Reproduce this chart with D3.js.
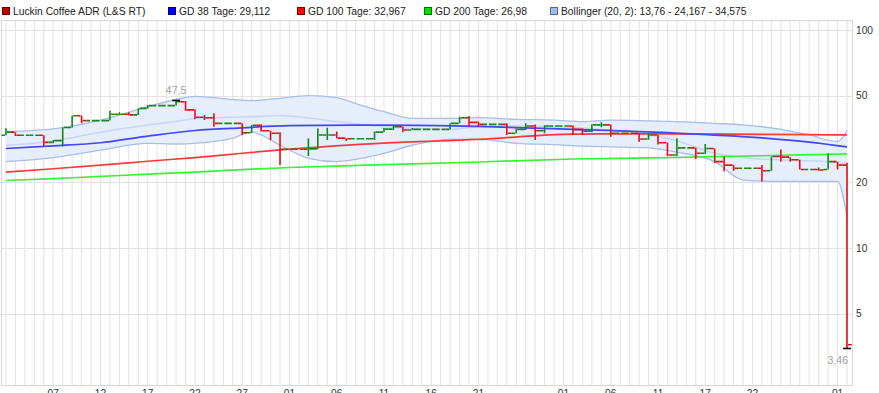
<!DOCTYPE html>
<html>
<head>
<meta charset="utf-8">
<title>Luckin Coffee ADR</title>
<style>
  body { margin: 0; background: #fff; }
  svg { display: block; font-family: "Liberation Sans", Arial, sans-serif; }
</style>
</head>
<body>
<div id="chart"></div>
<script src="https://d3js.org/d3.v7.min.js"></script>
<script>
// Tageskurse (L&S RT), 02.01. - 02.04.
var open  = [32.9,34.0,32.9,32.9,32.9,30.5,31.1,35.7,40.4,38.4, 38.4,38.4,41.1,41.1,40.8,43.7,45.0,45.0,45.0,46.9,
             43.0,39.8,39.6,37.3,37.3,37.3,33.8,36.5,34.5,33.6, 28.4,28.4,28.4,28.5,33.0,33.0,31.9,31.7,31.7,31.7,
             34.0,35.1,36.0,34.8,35.0,35.0,35.0,35.0,37.3,39.6, 37.7,36.9,36.9,36.9,33.6,35.0,36.3,34.5,36.3,36.3,
             36.3,35.0,34.3,36.7,36.7,33.6,33.6,33.6,31.6,33.0, 30.4,26.7,28.8,28.8,27.2,28.6,24.9,24.0,23.2,23.2,
             23.2,22.6,26.3,26.1,25.4,22.9,22.9,22.9,24.9,24.0];
var high  = [35.4,34.0,32.9,32.9,32.9,31.3,35.7,40.4,40.4,38.4, 38.4,42.6,42.0,42.0,43.7,45.3,45.0,45.0,47.5,47.2,
             43.2,40.8,41.5,37.3,37.3,37.3,36.7,37.0,34.5,34.0, 28.4,28.4,31.9,35.3,35.6,34.2,31.9,31.7,31.7,34.2,
             35.5,36.5,36.0,35.5,35.0,35.0,35.0,37.3,40.0,40.3, 38.0,36.9,36.9,37.3,35.3,37.3,36.9,36.7,36.3,36.3,
             36.5,35.4,37.0,37.7,36.9,33.6,33.6,33.6,33.6,33.0, 30.4,31.9,28.8,28.8,30.0,28.6,26.3,24.0,23.2,23.2,
             24.0,26.3,28.3,26.1,25.4,22.9,23.4,27.2,24.9,24.6];
var low   = [32.9,32.6,32.9,32.9,29.2,30.2,29.2,35.7,37.3,38.4, 38.4,38.4,40.8,40.5,40.8,43.7,45.0,45.0,45.0,42.6,
             39.0,38.6,36.0,37.3,37.3,33.0,33.8,34.2,31.3,24.0, 28.4,28.4,26.4,28.4,31.3,31.9,31.0,31.7,31.7,31.3,
             34.0,34.8,34.0,34.8,35.0,35.0,35.0,35.0,37.3,36.0, 36.0,36.9,36.9,33.0,33.6,34.8,31.3,33.6,36.3,36.3,
             33.0,33.0,34.0,35.8,32.4,33.6,33.6,30.7,31.4,29.8, 26.4,26.4,28.8,25.6,27.0,24.5,22.5,22.6,23.2,23.2,
             20.2,22.6,24.9,24.9,22.9,22.9,22.6,22.9,22.9,3.46];
var close = [34.0,32.9,32.9,32.9,30.5,31.1,35.7,40.4,38.4,38.4, 38.4,41.1,41.1,40.8,43.7,45.0,45.0,45.0,46.9,43.0,
             39.8,39.6,37.3,37.3,37.3,33.8,36.5,34.5,33.6,28.4, 28.4,28.4,28.5,33.0,33.0,31.9,31.7,31.7,31.7,34.0,
             35.1,36.0,34.8,35.0,35.0,35.0,35.0,37.3,39.6,37.7, 36.9,36.9,36.9,33.6,35.0,36.3,34.5,36.3,36.3,36.3,
             35.0,34.3,36.7,36.7,33.6,33.6,33.6,31.6,33.0,30.4, 26.7,28.8,28.8,27.2,28.6,24.9,24.0,23.2,23.2,23.2,
             22.6,26.3,26.1,25.4,22.9,22.9,22.8,24.9,24.0,3.6];

var maIdx  = [0, 5, 10, 15, 20, 25, 30, 40, 50, 60, 70, 80, 85, 89];
var gd38   = [28.6,29.4,30.4,32.6,34.6,35.6,36.4,36.6,36.1,35.0,33.8,32.0,30.6,29.1];
var gd100  = [22.3,23.1,24.0,25.0,26.0,27.2,28.4,30.3,31.5,33.3,33.4,33.2,33.1,33.0];
var gd200  = [20.4,20.8,21.3,21.8,22.3,22.9,23.4,24.1,24.8,25.6,26.0,26.5,26.8,27.0];

// Bollinger (20, 2)
var bandIdx   = [0, 5, 10, 15, 18, 20, 24, 26, 29, 32, 35, 37, 40, 43, 47, 50, 54, 58, 61, 64, 68, 71, 75, 78, 82, 85, 88, 89];
var bollUpper = [34.2,35.2,38.6,44.5,48.0,49.6,48.0,47.4,48.6,50.0,49.0,46.0,42.2,39.3,39.3,39.6,38.9,38.6,38.0,38.6,38.3,38.0,37.3,36.7,35.0,33.0,30.8,34.6];
var bollMid   = [29.6,31.0,34.0,36.7,38.0,39.3,39.8,40.0,40.5,39.5,38.0,37.2,36.0,35.3,35.0,36.0,36.3,36.0,35.5,34.6,33.0,31.0,27.2,26.0,25.3,25.1,24.6,24.2];
var bollLower = [24.9,26.0,28.1,30.2,30.0,30.2,31.9,34.0,29.6,25.8,24.9,25.5,27.2,29.6,31.5,31.5,30.2,29.8,29.3,29.1,28.8,27.5,24.9,20.5,20.2,20.2,20.2,13.8];

var yTicks = [100, 50, 20, 10, 5];
var xTickIdx    = [5, 10, 15, 20, 25, 30, 35, 40, 45, 50, 59, 64, 69, 74, 79, 88];
var xTickLabels = ["07","12","17","22","27","01","06","11","16","21","01","06","11","17","22","01"];

var legendItems = [
  {text: "Luckin Coffee ADR (L&S RT)", fill: "#c00000", stroke: "#600000", x: 2},
  {text: "GD 38 Tage: 29,112", fill: "#0000ff", stroke: "#000080", x: 168},
  {text: "GD 100 Tage: 32,967", fill: "#ff0000", stroke: "#800000", x: 297},
  {text: "GD 200 Tage: 26,98", fill: "#00e000", stroke: "#007000", x: 424},
  {text: "Bollinger (20, 2): 13,76 - 24,167 - 34,575", fill: "#a4b8e4", stroke: "#5a6a98", x: 550}
];

var W = 879, H = 393;
var plot = {l: 1.5, r: 852.5, t: 20.5, b: 385.5};

var svg = d3.select("#chart").append("svg")
  .attr("width", W).attr("height", H);

var x = d3.scalePoint().domain(d3.range(close.length)).range([6, 847]);
var step = x.step();
var y = d3.scaleLog().domain([10, 100]).range([248, 30]);

svg.append("clipPath").attr("id", "clip")
  .append("rect").attr("x", plot.l).attr("y", plot.t)
  .attr("width", plot.r - plot.l).attr("height", plot.b - plot.t);

// Gitter
var grid = svg.append("g");
grid.selectAll("line.v").data(d3.range(close.length)).enter().append("line")
  .attr("x1", function(d){ return x(d); }).attr("x2", function(d){ return x(d); })
  .attr("y1", plot.t).attr("y2", plot.b)
  .attr("stroke", "#e2e2e2").attr("stroke-width", 1);
grid.selectAll("line.h").data(yTicks).enter().append("line")
  .attr("x1", plot.l).attr("x2", plot.r)
  .attr("y1", function(d){ return Math.round(y(d)) + 0.5; })
  .attr("y2", function(d){ return Math.round(y(d)) + 0.5; })
  .attr("stroke", "#e2e2e2");
svg.append("rect").attr("x", plot.l).attr("y", plot.t)
  .attr("width", plot.r - plot.l).attr("height", plot.b - plot.t)
  .attr("fill", "none").attr("stroke", "#d6d6d6");

var g = svg.append("g").attr("clip-path", "url(#clip)");

// Bollinger Band
var bandArea = d3.area()
  .x(function(d, i){ return x(bandIdx[i]); })
  .y0(function(d, i){ return y(bollLower[i]); })
  .y1(function(d, i){ return y(bollUpper[i]); })
  .curve(d3.curveMonotoneX);
g.append("path").datum(bandIdx).attr("d", bandArea)
  .attr("fill", "#e6edfb").attr("stroke", "none");

function seriesLine(idx) {
  return d3.line()
    .x(function(d, i){ return x(idx[i]); })
    .y(function(d){ return y(d); })
    .curve(d3.curveMonotoneX);
}
[[bollUpper, "#a9bde7", 1.3], [bollLower, "#a9bde7", 1.3], [bollMid, "#c6d6f4", 1.5]].forEach(function(s){
  g.append("path").datum(s[0]).attr("d", seriesLine(bandIdx))
    .attr("fill", "none").attr("stroke", s[1]).attr("stroke-width", s[2]);
});

[[gd200, "#3cf03c"], [gd100, "#ff3a3a"], [gd38, "#4646ff"]].forEach(function(s){
  g.append("path").datum(s[0]).attr("d", seriesLine(maIdx))
    .attr("fill", "none").attr("stroke", s[1]).attr("stroke-width", 1.7);
});

// OHLC Balken
var bars = g.selectAll("g.bar").data(d3.range(close.length)).enter().append("g")
  .attr("stroke", function(i){ return close[i] >= open[i] ? "#14861a" : "#e01010"; })
  .attr("stroke-width", 1.6);
bars.append("line")
  .attr("x1", function(i){ return x(i); }).attr("x2", function(i){ return x(i); })
  .attr("y1", function(i){ return y(high[i]); }).attr("y2", function(i){ return y(low[i]); });
bars.append("line")
  .attr("x1", function(i){ return x(i) - step / 2; }).attr("x2", function(i){ return x(i) - 1; })
  .attr("y1", function(i){ return y(open[i]); }).attr("y2", function(i){ return y(open[i]); });
bars.append("line")
  .attr("x1", function(i){ return x(i) + 1; }).attr("x2", function(i){ return x(i) + step / 2; })
  .attr("y1", function(i){ return y(close[i]); }).attr("y2", function(i){ return y(close[i]); });

// Hoch / Tief Markierung
function deNum(v){ return String(v).replace(".", ","); }
var iMax = d3.maxIndex(high), iMin = d3.minIndex(low);
[[iMax, high[iMax], -6, "middle"], [iMin, low[iMin], 16, "end"]].forEach(function(m){
  svg.append("line")
    .attr("x1", x(m[0]) - 4).attr("x2", x(m[0]) + 4)
    .attr("y1", y(m[1])).attr("y2", y(m[1]))
    .attr("stroke", "#111").attr("stroke-width", 1.6);
  svg.append("text")
    .attr("x", m[3] === "end" ? x(m[0]) + 1 : x(m[0]))
    .attr("y", y(m[1]) + m[2])
    .attr("text-anchor", m[3])
    .attr("font-size", 10.5).attr("fill", "#a0a0a0")
    .text(deNum(m[1]));
});

// Achsen
svg.selectAll("text.ytick").data(yTicks).enter().append("text")
  .attr("x", 856).attr("y", function(d){ return y(d); }).attr("dy", "0.35em")
  .attr("font-size", 10.2).attr("fill", "#333")
  .text(function(d){ return d; });
svg.selectAll("text.xtick").data(xTickIdx).enter().append("text")
  .attr("x", function(d){ return x(d); }).attr("y", 397)
  .attr("text-anchor", "middle")
  .attr("font-size", 10.2).attr("fill", "#333")
  .text(function(d, i){ return xTickLabels[i]; });

// Legende
var leg = svg.selectAll("g.leg").data(legendItems).enter().append("g")
  .attr("transform", function(d){ return "translate(" + d.x + ",0)"; });
leg.append("rect").attr("x", 0.5).attr("y", 7.5).attr("width", 7).attr("height", 7)
  .attr("fill", function(d){ return d.fill; }).attr("stroke", function(d){ return d.stroke; });
leg.append("text").attr("x", 11).attr("y", 15)
  .attr("font-size", 10.3).attr("fill", "#222")
  .text(function(d){ return d.text; });
</script>
</body>
</html>
